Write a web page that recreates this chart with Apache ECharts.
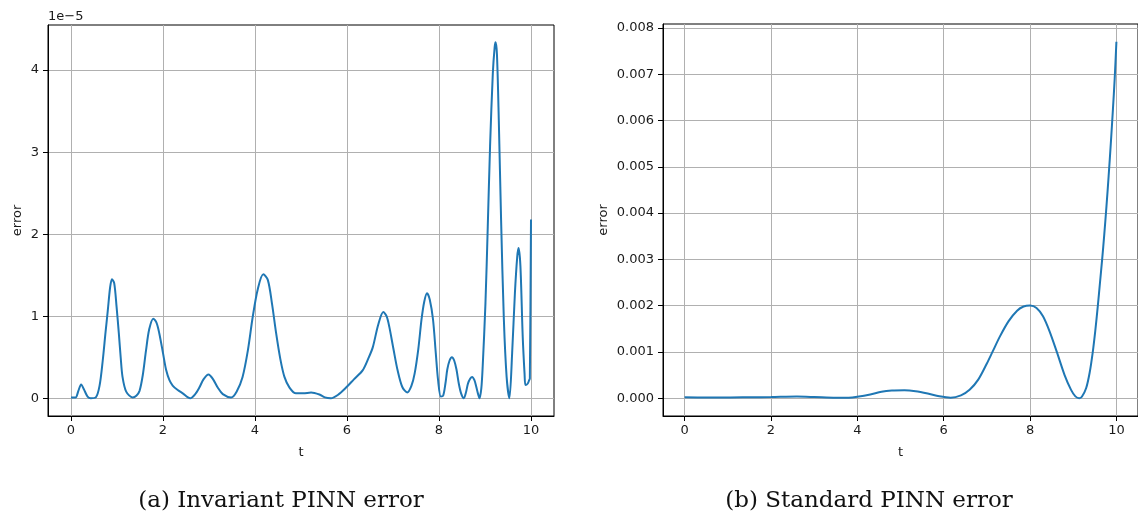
<!DOCTYPE html>
<html>
<head>
<meta charset="utf-8">
<script src="https://cdn.jsdelivr.net/npm/echarts@6.0.0/dist/echarts.min.js"></script>
<style>
html,body{margin:0;padding:0;background:#fff;}
#chart{width:1138px;height:515px;}
</style>
</head>
<body>
<div id="chart"></div>
<script>
// (a) Invariant PINN error, values in units of 1e-5
const invT = [0.00,0.10,0.16,0.22,0.28,0.36,0.43,0.54,0.62,0.69,0.75,0.80,0.85,0.89,0.94,0.99,1.04,1.08,1.12,1.20,1.34,1.42,1.49,1.56,1.63,1.70,1.79,1.86,1.92,2.00,2.07,2.14,2.21,2.32,2.43,2.59,2.70,2.79,2.88,2.99,3.09,3.19,3.30,3.48,3.60,3.73,3.85,3.95,4.06,4.18,4.28,4.37,4.46,4.55,4.64,4.75,4.89,5.05,5.22,5.40,5.52,5.65,5.80,5.98,6.15,6.34,6.46,6.56,6.68,6.79,6.86,6.92,7.01,7.10,7.20,7.31,7.40,7.47,7.55,7.62,7.68,7.74,7.80,7.87,7.93,7.98,8.04,8.09,8.14,8.18,8.23,8.28,8.33,8.38,8.43,8.48,8.54,8.59,8.63,8.68,8.72,8.77,8.81,8.85,8.88,8.92,8.95,9.01,9.06,9.11,9.17,9.21,9.23,9.26,9.30,9.35,9.41,9.47,9.53,9.59,9.65,9.70,9.73,9.77,9.82,9.86,9.88,9.93,9.96,9.975,10.00];
const invV = [0.01,0.01,0.09,0.167,0.11,0.02,0.00,0.01,0.15,0.46,0.80,1.07,1.35,1.45,1.40,1.12,0.79,0.50,0.26,0.08,0.01,0.03,0.09,0.28,0.58,0.84,0.97,0.92,0.79,0.55,0.34,0.22,0.155,0.10,0.06,0.00,0.05,0.13,0.23,0.29,0.23,0.13,0.05,0.01,0.08,0.26,0.60,0.99,1.33,1.51,1.44,1.15,0.79,0.48,0.26,0.13,0.06,0.06,0.07,0.045,0.01,0.00,0.04,0.13,0.23,0.34,0.48,0.62,0.90,1.05,1.00,0.87,0.60,0.34,0.14,0.07,0.15,0.30,0.60,0.96,1.18,1.28,1.20,0.96,0.55,0.22,0.02,0.03,0.18,0.35,0.46,0.50,0.46,0.35,0.18,0.06,0.00,0.08,0.18,0.24,0.26,0.22,0.14,0.05,0.00,0.12,0.39,1.16,2.09,3.07,3.96,4.28,4.34,4.19,3.39,2.17,0.96,0.26,0.00,0.55,1.28,1.72,1.83,1.61,0.75,0.30,0.16,0.18,0.22,0.24,2.18];

// (b) Standard PINN error
const stdT = [0.0,0.5,1.0,1.5,2.0,2.6,3.0,3.5,3.8,4.0,4.3,4.56,4.8,5.09,5.35,5.63,5.9,6.16,6.4,6.6,6.8,7.0,7.13,7.3,7.5,7.7,7.85,8.0,8.15,8.3,8.45,8.62,8.8,8.95,9.05,9.14,9.2,9.3,9.38,9.45,9.51,9.57,9.62,9.67,9.72,9.77,9.82,9.87,9.92,9.96,10.0];
const stdV = [0.00002,0.000015,0.000015,0.00002,0.000025,0.000035,0.000025,0.000008,0.00001,0.00003,0.00008,0.00014,0.000165,0.00017,0.00015,0.0001,0.00004,0.00001,0.00006,0.00018,0.0004,0.00075,0.001,0.00133,0.00166,0.00189,0.00198,0.002,0.00195,0.00177,0.00145,0.001,0.0005,0.00018,0.00004,0.0,0.00003,0.00022,0.00055,0.00098,0.00145,0.002,0.0025,0.003,0.00355,0.00415,0.0048,0.0055,0.00625,0.0069,0.0077];

const xTicks = [0,2,4,6,8,10];
const invYTicks = [0,1,2,3,4];
const stdYTicks = [0,0.001,0.002,0.003,0.004,0.005,0.006,0.007,0.008];
const invScaleLabel = '1e\u22125';
const captions = ['(a) Invariant PINN error', '(b) Standard PINN error'];
const xName = 't', yName = 'error';

const invData = invT.map((t,i)=>[t, invV[i]]);
const stdData = stdT.map((t,i)=>[t, stdV[i]]);

const txt = {color:'#1a1a1a', fontFamily:'DejaVu Sans', fontSize:13};
function xAxisCfg(gi){
  return {
    type:'value', gridIndex:gi, min:-0.5, max:10.5,
    name:xName, nameLocation:'middle', nameGap:30,
    nameTextStyle:{...txt},
    axisLine:{show:true, onZero:false, lineStyle:{color:'#000', width:1}},
    axisTick:{show:true, inside:false, length:5, lineStyle:{color:'#000'}, customValues:xTicks},
    axisLabel:{...txt, margin:8, customValues:xTicks, formatter:v=>String(v)},
    splitLine:{show:true, lineStyle:{color:'#b0b0b0', width:1}}
  };
}
function yAxisCfg(gi, min, max, ticks, fmt, gap){
  return {
    type:'value', gridIndex:gi, min:min, max:max,
    name:yName, nameLocation:'middle', nameGap:gap, nameRotate:90,
    nameTextStyle:{...txt},
    axisLine:{show:true, onZero:false, lineStyle:{color:'#000', width:1}},
    axisTick:{show:true, inside:false, length:5, lineStyle:{color:'#000'}, customValues:ticks},
    axisLabel:{...txt, margin:9, customValues:ticks, formatter:fmt},
    splitLine:{show:true, lineStyle:{color:'#b0b0b0', width:1}}
  };
}

const chart = echarts.init(document.getElementById('chart'), null, {renderer:'canvas'});
chart.setOption({
  animation:false,
  backgroundColor:'#fff',
  grid:[
    {left:48, top:25, width:506, height:391, show:true, borderColor:'#000', borderWidth:1, containLabel:false},
    {left:663, top:24, width:480, height:392, show:true, borderColor:'#000', borderWidth:1, containLabel:false}
  ],
  xAxis:[xAxisCfg(0), xAxisCfg(1)],
  yAxis:[
    yAxisCfg(0, -0.2165, 4.55, invYTicks, v=>String(v), 24),
    yAxisCfg(1, -0.000385, 0.008085, stdYTicks, v=>v.toFixed(3), 53)
  ],
  series:[
    {type:'line', xAxisIndex:0, yAxisIndex:0, data:invData, showSymbol:false, smooth:0.3,
     lineStyle:{color:'#1f77b4', width:2}, itemStyle:{color:'#1f77b4'}},
    {type:'line', xAxisIndex:1, yAxisIndex:1, data:stdData, showSymbol:false, smooth:0.3,
     lineStyle:{color:'#1f77b4', width:2}, itemStyle:{color:'#1f77b4'}}
  ],
  graphic:[
    {type:'text', left:48, top:10, style:{text:invScaleLabel, fill:'#1a1a1a', font:'13px "DejaVu Sans"'}},
    {type:'text', x:281, y:501, style:{text:captions[0], fill:'#111', font:'23px "DejaVu Serif"', align:'center', verticalAlign:'middle'}},
    {type:'text', x:869, y:501, style:{text:captions[1], fill:'#111', font:'23px "DejaVu Serif"', align:'center', verticalAlign:'middle'}}
  ]
});
</script>
</body>
</html>
